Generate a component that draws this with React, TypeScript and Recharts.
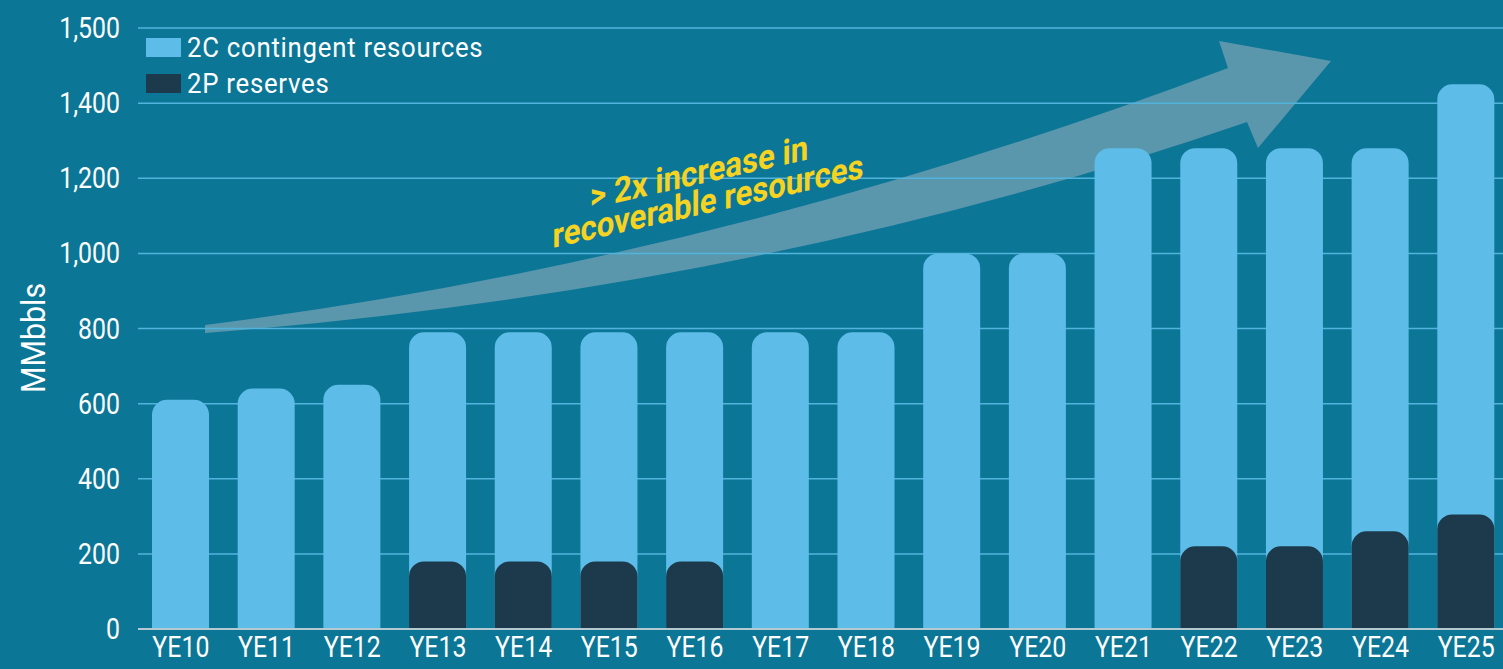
import { BarChart, Bar, XAxis, YAxis, CartesianGrid } from 'recharts';

const years = ['YE10', 'YE11', 'YE12', 'YE13', 'YE14', 'YE15', 'YE16', 'YE17', 'YE18', 'YE19', 'YE20', 'YE21', 'YE22', 'YE23', 'YE24', 'YE25'];
// 2C bar is drawn at full height, 2P reserves overlaid on top of it
const contingent2C = [610, 640, 650, 790, 790, 790, 790, 790, 790, 1000, 1000, 1280, 1280, 1280, 1280, 1450];
const reserves2P = [0, 0, 0, 180, 180, 180, 180, 0, 0, 0, 0, 0, 220, 220, 260, 305];
const yTicks = [0, 200, 400, 600, 800, 1000, 1200, 1400, 1600];
const yTickLabels = ['0', '200', '400', '600', '800', '1,000', '1,200', '1,400', '1,500'];

const BG = '#0c7696';
const LIGHT = '#5dbde8';
const DARK = '#1d3a4c';
const FONT = 'Roboto, "DejaVu Sans", sans-serif';
const SQUEEZE = 0.83;

const data = years.map((y, i) => ({ year: y, c2: contingent2C[i], p2: reserves2P[i] }));

const legendItems = [
  { label: '2C contingent resources', color: LIGHT },
  { label: '2P reserves', color: DARK },
];

function XTick({ x, y, payload }: any) {
  return (
    <g transform={`translate(${x},${y})`}>
      <text transform={`scale(${SQUEEZE},1)`} textAnchor="middle" dy={24} fill="#fff" fontSize={30} fontFamily={FONT}>
        {payload.value}
      </text>
    </g>
  );
}

function YTick({ x, y, payload }: any) {
  return (
    <g transform={`translate(${x},${y})`}>
      <text transform={`scale(${SQUEEZE},1)`} textAnchor="end" dy={10} fill="#fff" fontSize={30} fontFamily={FONT}>
        {yTickLabels[yTicks.indexOf(payload.value)]}
      </text>
    </g>
  );
}

export default function App() {
  return (
    <div style={{ position: 'fixed', left: 0, top: 0, width: 1503, height: 669, overflow: 'hidden', background: BG }}>
      {/* growth arrow behind the bars */}
      <svg width={1503} height={669} style={{ position: 'absolute', left: 0, top: 0 }}>
        <path
          d="M205,325 Q720,260 1228,68 L1219,41 L1331,61 L1258,148 L1247,122 Q760,290 205,333 Z"
          fill="#5a97ad"
        />
      </svg>
      <div style={{ position: 'absolute', left: 0, top: 0 }}>
        <BarChart width={1509} height={669} data={data} margin={{ top: 28, right: 0, left: 0, bottom: 0 }} barSize={57} barGap={-57}>
          <CartesianGrid vertical={false} stroke="#52b4dc" strokeWidth={1.5} />
          <XAxis
            dataKey="year"
            height={40}
            tickLine={false}
            tickSize={0}
            tickMargin={4}
            axisLine={{ stroke: '#b5c9d2', strokeWidth: 2 }}
            tick={<XTick />}
            interval={0}
          />
          <YAxis
            width={138}
            domain={[0, 1600]}
            ticks={yTicks}
            axisLine={false}
            tickLine={false}
            tickSize={0}
            tickMargin={18}
            tick={<YTick />}
          />
          <Bar dataKey="c2" name="2C contingent resources" fill={LIGHT} radius={[15, 15, 0, 0]} isAnimationActive={false} />
          <Bar dataKey="p2" name="2P reserves" fill={DARK} radius={[15, 15, 0, 0]} isAnimationActive={false} />
        </BarChart>
      </div>
      {/* legend */}
      <div style={{ position: 'absolute', left: 146, top: 38, display: 'flex', flexDirection: 'column', gap: 17 }}>
        {legendItems.map((it) => (
          <div key={it.label} style={{ display: 'flex', alignItems: 'center', height: 19 }}>
            <span style={{ width: 35, height: 19, background: it.color, marginRight: 6, display: 'inline-block' }} />
            <span
              style={{
                color: '#fff',
                fontSize: 28,
                fontFamily: FONT,
                whiteSpace: 'nowrap',
                display: 'inline-block',
                transform: 'scaleX(0.92)',
                transformOrigin: 'left center',
                letterSpacing: 0.8,
              }}
            >
              {it.label}
            </span>
          </div>
        ))}
      </div>
      {/* axis title and annotation text */}
      <svg width={1503} height={669} style={{ position: 'absolute', left: 0, top: 0, pointerEvents: 'none' }}>
        <text transform="translate(45,338) rotate(-90) scale(0.92,1)" textAnchor="middle" fill="#fff" fontSize={33} fontFamily={FONT}>
          MMbbls
        </text>
        <g transform="translate(708,213) skewY(-12.7) scale(0.89,1)" fill="#f5d320" fontFamily={FONT} fontWeight="bold" fontSize={35} textAnchor="middle">
          <text x={-10} y={-31}>&gt; 2x increase in</text>
          <text x={0} y={0}>recoverable resources</text>
        </g>
      </svg>
    </div>
  );
}
